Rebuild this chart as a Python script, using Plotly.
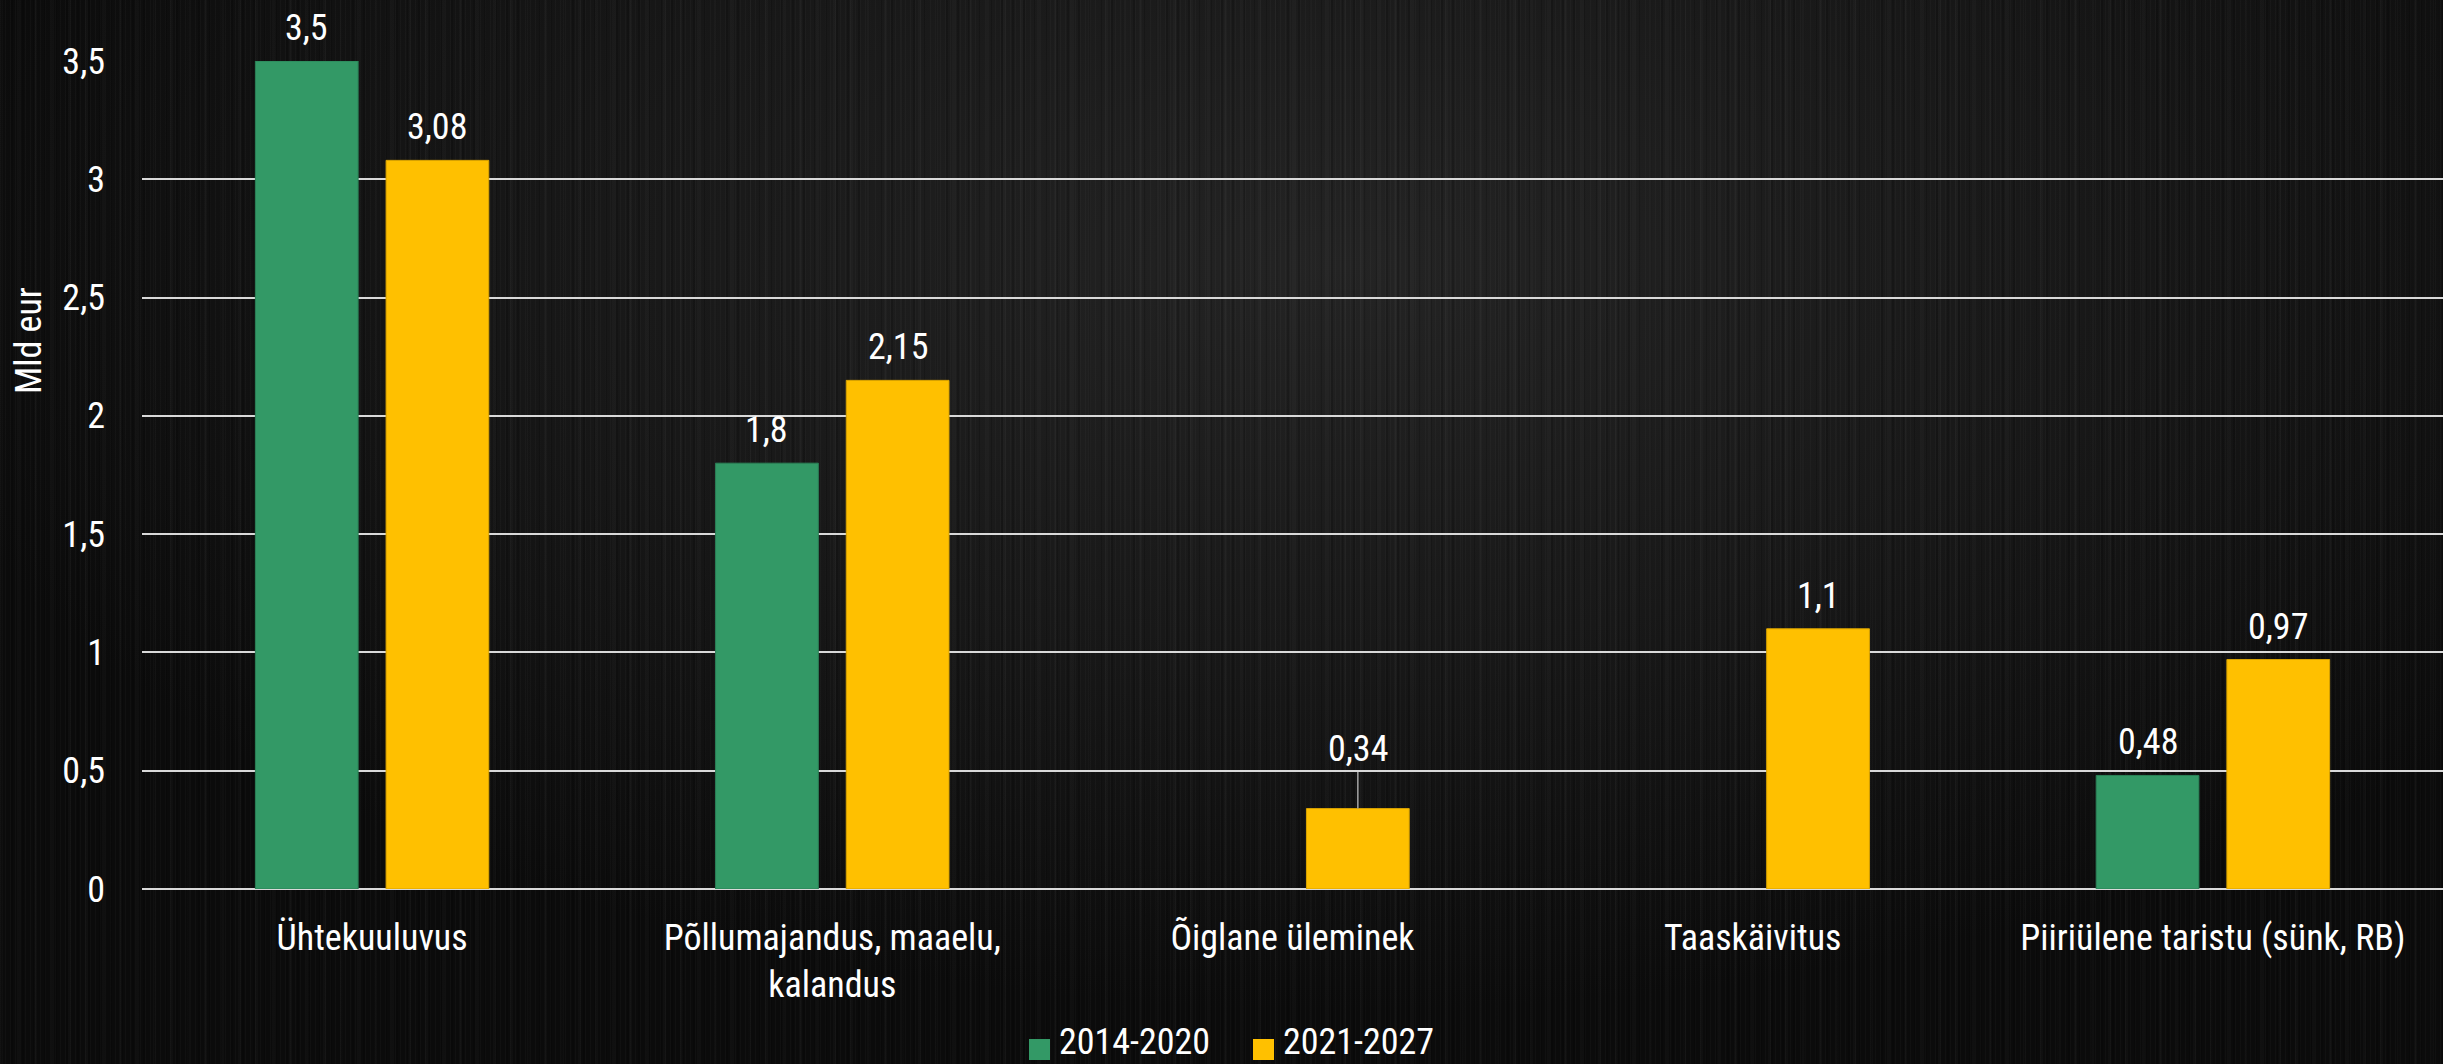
import plotly.graph_objects as go

categories = ["Ühtekuuluvus", "Põllumajandus, maaelu,<br>kalandus", "Õiglane üleminek",
              "Taaskäivitus", "Piiriülene taristu (sünk, RB)"]
series_names = ["2014-2020", "2021-2027"]
values_2014_2020 = [3.5, 1.8, None, None, 0.48]
values_2021_2027 = [3.08, 2.15, 0.34, 1.1, 0.97]
y_ticks = [0, 0.5, 1, 1.5, 2, 2.5, 3, 3.5]
y_title = "Mld eur"

colors = ["#339966", "#FFC000"]
edge_colors = ["#2B8157", "#D9A300"]
FONT = "Roboto Condensed, Roboto, sans-serif"
TXT = "#FFFFFF"

W, H = 2443, 1064
ML, MR, MT, MB = 142, 0, 61, 175
PW, PH = W - ML - MR, H - MT - MB


def px(xp):
    return (xp - ML) / PW


def py(yp):
    return (H - MB - yp) / PH


def fmt(v):
    return "" if v is None else str(v).replace(".", ",")


BARGAP = 0.432
BARGROUPGAP = 0.214
FS = 36
slot = (1 - BARGAP) / 2

fig = go.Figure()
all_series = [values_2014_2020, values_2021_2027]
for k, (vals, name) in enumerate(zip(all_series, series_names)):
    fig.add_trace(go.Bar(
        x=categories, y=vals, name=name,
        marker=dict(color=colors[k], line=dict(width=1, color=edge_colors[k])),
        showlegend=False, hoverinfo="x+y",
    ))

# data labels
leader_idx = 2  # label lifted with a leader line (Õiglane üleminek, 2021-2027)
for k, vals in enumerate(all_series):
    offset = (k - 0.5) * slot
    for i, v in enumerate(vals):
        if v is None:
            continue
        if k == 1 and i == leader_idx:
            fig.add_annotation(
                x=i + offset, y=v, xref="x", yref="y",
                ax=i + offset, ay=v + 0.25, axref="x", ayref="y",
                text=fmt(v), showarrow=True, arrowhead=0,
                arrowwidth=1.5, arrowcolor="#A6A6A6", standoff=0, startstandoff=0,
                font=dict(family=FONT, size=FS, color=TXT),
            )
        else:
            fig.add_annotation(
                x=i + offset, y=v, xref="x", yref="y", xanchor="center",
                yanchor="bottom", yshift=10, text=fmt(v), showarrow=False,
                font=dict(family=FONT, size=FS, color=TXT),
            )

# y-axis title
fig.add_annotation(
    x=px(29), y=py(341), xref="paper", yref="paper", xanchor="center", yanchor="middle",
    text=y_title, textangle=-90, showarrow=False,
    font=dict(family=FONT, size=FS, color=TXT),
)

# legend (drawn manually so it does not push the plot margins)
legend_items = [(1029, 1058), (1253, 1282)]
for (sq_x, tx_x), name, c in zip(legend_items, series_names, colors):
    fig.add_shape(type="rect", xref="paper", yref="paper",
                  x0=px(sq_x), x1=px(sq_x + 21), y0=py(1060), y1=py(1039),
                  fillcolor=c, line=dict(width=0))
    fig.add_annotation(x=px(tx_x), y=py(1064), xref="paper", yref="paper",
                       xanchor="left", yanchor="bottom", borderpad=0,
                       text=name, showarrow=False,
                       font=dict(family=FONT, size=FS, color=TXT))

fig.update_layout(
    width=W, height=H,
    margin=dict(l=ML, r=MR, t=MT, b=MB, pad=0),
    paper_bgcolor="rgba(0,0,0,0)", plot_bgcolor="rgba(0,0,0,0)",
    barmode="group", bargap=BARGAP, bargroupgap=BARGROUPGAP,
    separators=", ",
    font=dict(family=FONT, color=TXT, size=FS),
    showlegend=False,
)
fig.update_yaxes(
    range=[0, 3.5], tickvals=y_ticks, ticktext=[fmt(v) for v in y_ticks],
    showgrid=True, gridcolor="#D9D9D9", gridwidth=2,
    zeroline=True, zerolinecolor="#D9D9D9", zerolinewidth=2,
    showline=False, ticks="", ticklabelstandoff=36,
    tickfont=dict(family=FONT, size=FS, color=TXT),
)
fig.update_xaxes(
    showgrid=False, showline=False, ticks="",
    tickfont=dict(family=FONT, size=FS, color=TXT), ticklabelstandoff=24,
)

# dark brushed-metal backdrop (page styling behind a transparent figure)
bg_css = (
    "repeating-linear-gradient(90deg, rgba(255,255,255,0.025) 0px, rgba(255,255,255,0.025) 1px, "
    "transparent 1px, transparent 5px),"
    "repeating-linear-gradient(90deg, rgba(0,0,0,0.18) 0px, rgba(0,0,0,0.18) 2px, "
    "transparent 2px, transparent 11px),"
    "repeating-linear-gradient(90deg, rgba(255,255,255,0.02) 0px, rgba(255,255,255,0.02) 3px, "
    "transparent 3px, transparent 17px),"
    "radial-gradient(ellipse 60% 70% at 55% 25%, #242424 0%, #171717 55%, #0b0b0b 100%)"
)
post = (
    "document.body.style.margin='0';"
    "document.documentElement.style.background='#0b0b0b';"
    "document.body.style.background=\"" + bg_css + "\";"
    "document.body.style.minHeight='100vh';"
)

fig.write_html("out.html", config={"displayModeBar": False}, post_script=post)
